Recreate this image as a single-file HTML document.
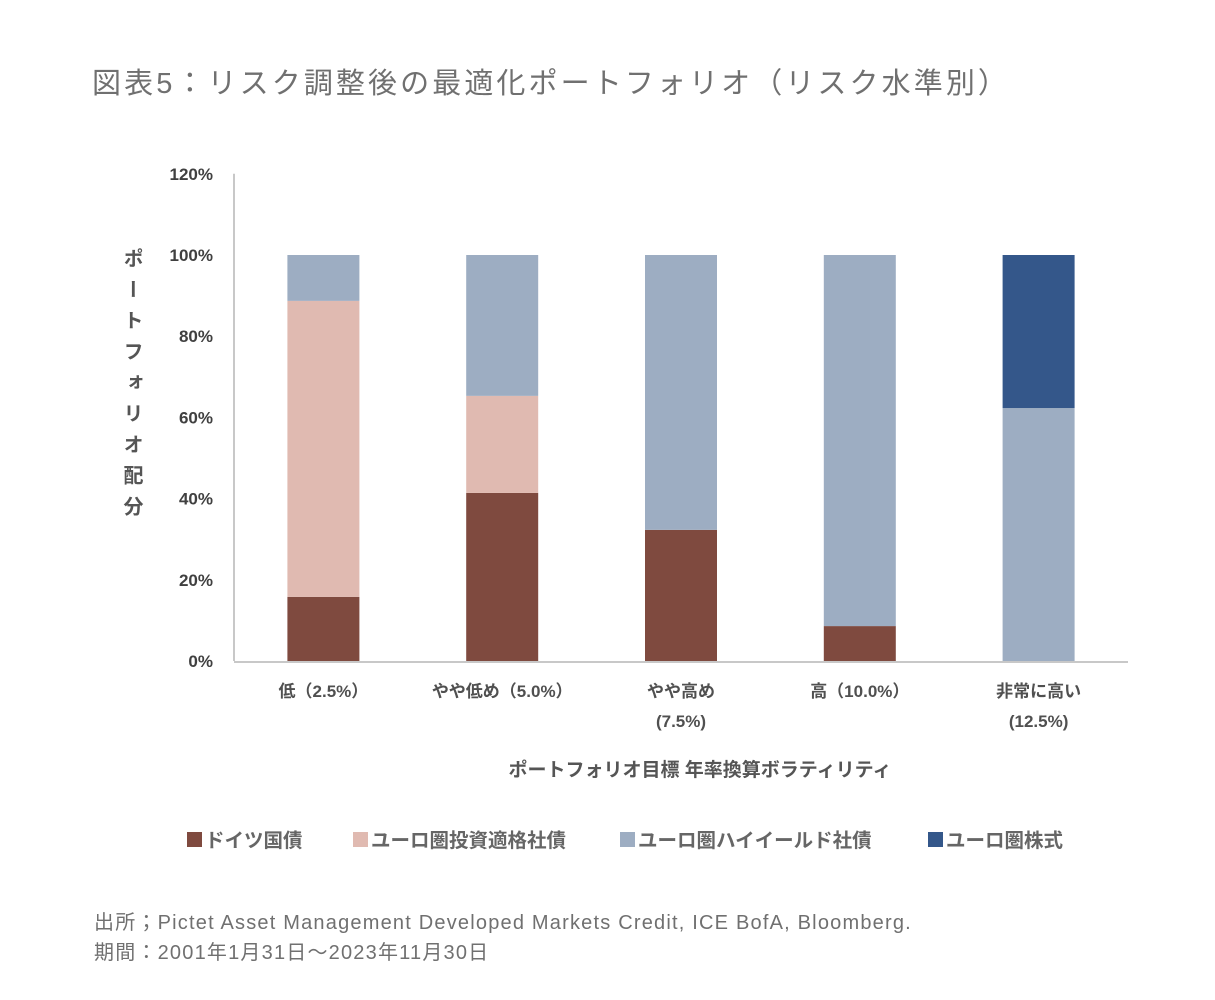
<!DOCTYPE html>
<html><head><meta charset="utf-8"><style>
body{margin:0;background:#fff;width:1215px;height:1000px;overflow:hidden;font-family:"Liberation Sans","Noto Sans CJK JP",sans-serif;}
#wrap{position:relative;width:1215px;height:1000px;}
.t{position:absolute;white-space:nowrap;}
</style></head><body>
<div id="wrap">
<div class="t" style="left:92px;top:60px;font-size:29px;color:#707070;letter-spacing:3.1px;">図表5：リスク調整後の最適化ポートフォリオ（リスク水準別）</div>
<svg id="chart" width="1215" height="1000" style="position:absolute;left:0;top:0"></svg>
<div class="t" style="left:94px;top:908px;font-size:20px;color:#707070;line-height:30px;letter-spacing:1.2px;">出所；Pictet Asset Management Developed Markets Credit, ICE BofA, Bloomberg.<br>期間：2001年1月31日～2023年11月30日</div>
</div>
<script>
const categories=["低（2.5%）","やや低め（5.0%）","やや高め|(7.5%)","高（10.0%）","非常に高い|(12.5%)"];
const seriesNames=["ドイツ国債","ユーロ圏投資適格社債","ユーロ圏ハイイールド社債","ユーロ圏株式"];
const bund=[15.8,41.4,32.3,8.6,0];
const euroIG=[72.9,23.9,0,0,0];
const euroHY=[11.3,34.7,67.7,91.4,62.3];
const equity=[0,0,0,0,37.7];
const yTicks=[0,20,40,60,80,100,120];
const colors=["#7f4a3f","#e0bab1","#9dadc2","#34578a"];
const series=[bund,euroIG,euroHY,equity];
const NS="http://www.w3.org/2000/svg";
const svg=document.getElementById('chart');
const x0=234,x1=1128,y0=661,y100=255;
const y=v=>y0-(v/100)*(y0-y100);
const band=(x1-x0)/categories.length;
const xc=i=>x0+band*(i+0.5);
const bw=72;
function mk(t,a){const e=document.createElementNS(NS,t);for(const k in a)e.setAttribute(k,a[k]);svg.appendChild(e);return e;}
const ax=mk('line',{x1:x0,y1:y(120),x2:x0,y2:y0,stroke:'#c8c8c8','stroke-width':2});


yTicks.forEach(v=>{const t=mk('text',{x:213,y:y(v)+6,'text-anchor':'end','font-size':17,fill:'#404040','font-weight':'bold'});t.textContent=v+'%';

});
categories.forEach((c,i)=>{let base=0;
series.forEach((s,j)=>{const v=s[i];if(v>0){const r=mk('rect',{x:xc(i)-bw/2,y:y(base+v),width:bw,height:y(base)-y(base+v),fill:colors[j]});

}base+=v;});
c.split('|').forEach((line,k)=>{const t=mk('text',{x:xc(i),y:697+k*30,'text-anchor':'middle','font-size':17,fill:'#505050','font-weight':'bold'});t.textContent=line;

});});
const xa=mk('line',{x1:x0,y1:y0+1,x2:x1,y2:y0+1,stroke:'#c8c8c8','stroke-width':2});


const yt=mk('text',{x:131,y:248,'font-size':20,fill:'#555','font-weight':'bold','writing-mode':'tb','text-anchor':'start','letter-spacing':11});
yt.textContent='ポートフォリオ配分';


const xt=mk('text',{x:700,y:776,'text-anchor':'middle','font-size':19,fill:'#555','font-weight':'bold'});
xt.textContent='ポートフォリオ目標 年率換算ボラティリティ';


const lx=[187,353,620,928];
seriesNames.forEach((n,i)=>{const r=mk('rect',{x:lx[i],y:832,width:15,height:15,fill:colors[i]});


const t=mk('text',{x:lx[i]+18,y:847,'font-size':19.5,fill:'#666','font-weight':'bold'});t.textContent=n;

});
</script>
</body></html>
